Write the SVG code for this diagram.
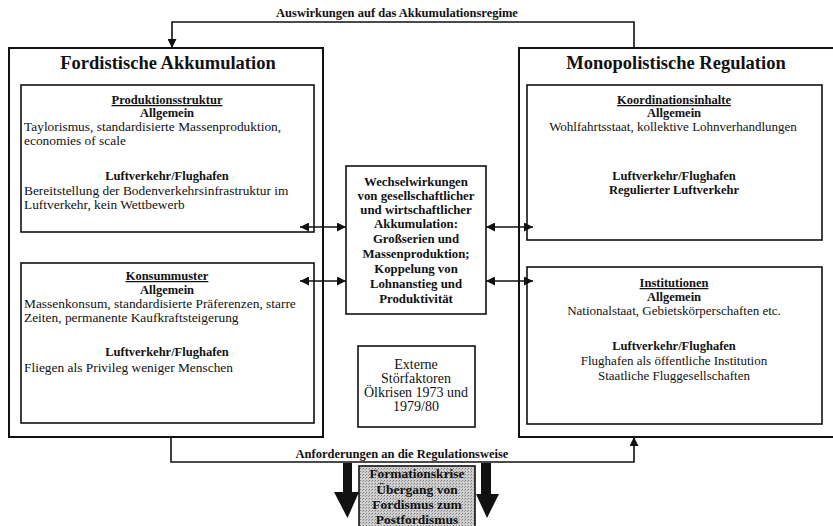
<svg xmlns="http://www.w3.org/2000/svg" width="833" height="526" viewBox="0 0 833 526">
<style>
text{font-family:"Liberation Serif","Times New Roman",serif;fill:#111}
.t{font-size:18.5px;font-weight:bold;text-anchor:middle}
.h{font-size:12.5px;font-weight:bold;text-anchor:middle}
.u{text-decoration:underline}
.b{font-size:13.4px}
.c{font-size:13px;text-anchor:middle}
.m{font-size:12.8px;font-weight:bold;text-anchor:middle}
.e{font-size:14px;text-anchor:middle}
.f{font-size:13.5px;font-weight:bold;text-anchor:middle}
.l{font-size:12.5px;font-weight:bold;text-anchor:middle}
.outer{fill:#fff;stroke:#111;stroke-width:2}
.inner{fill:#fff;stroke:#111;stroke-width:1.6}
.ln{fill:none;stroke:#111;stroke-width:1.6}
</style>
<defs>
<marker id="ah" viewBox="0 0 10 10" refX="10" refY="5" markerWidth="9" markerHeight="9" markerUnits="userSpaceOnUse" orient="auto-start-reverse">
<path d="M0,0 L10,5 L0,10 z" fill="#111"/>
</marker>
<pattern id="dots" width="3" height="3" patternUnits="userSpaceOnUse">
<rect width="3" height="3" fill="#d0d0d0"/>
<rect x="0" y="0" width="1" height="1" fill="#777"/>
<rect x="2" y="1" width="1" height="1" fill="#999"/>
</pattern>
</defs>
<rect width="833" height="526" fill="#fff"/>

<g id="fordistische-akkumulation">
<rect class="outer" x="9" y="48" width="314" height="389"/>
<text class="t" x="168" y="69">Fordistische Akkumulation</text>
</g>
<g id="produktionsstruktur">
<rect class="inner" x="21" y="85" width="293" height="147"/>
<text class="h u" x="167" y="104">Produktionsstruktur</text>
<text class="h" x="167" y="117">Allgemein</text>
<text class="b" x="24" y="131">Taylorismus, standardisierte Massenproduktion,</text>
<text class="b" x="24" y="145">economies of scale</text>
<text class="h" x="167" y="180">Luftverkehr/Flughafen</text>
<text class="b" x="24" y="195">Bereitstellung der Bodenverkehrsinfrastruktur im</text>
<text class="b" x="24" y="209">Luftverkehr, kein Wettbewerb</text>
</g>
<g id="konsummuster">
<rect class="inner" x="21" y="263" width="293" height="160"/>
<text class="h u" x="167" y="280">Konsummuster</text>
<text class="h" x="167" y="294">Allgemein</text>
<text class="b" x="24" y="308">Massenkonsum, standardisierte Präferenzen, starre</text>
<text class="b" x="24" y="322">Zeiten, permanente Kaufkraftsteigerung</text>
<text class="h" x="167" y="356">Luftverkehr/Flughafen</text>
<text class="b" x="24" y="372">Fliegen als Privileg weniger Menschen</text>
</g>

<g id="monopolistische-regulation">
<rect class="outer" x="519" y="48" width="320" height="389"/>
<text class="t" x="676" y="69">Monopolistische Regulation</text>
</g>
<g id="koordinationsinhalte">
<rect class="inner" x="527" y="85" width="295" height="155"/>
<text class="h u" x="674" y="104">Koordinationsinhalte</text>
<text class="h" x="674" y="117">Allgemein</text>
<text class="c" x="673" y="131">Wohlfahrtsstaat, kollektive Lohnverhandlungen</text>
<text class="h" x="674" y="180">Luftverkehr/Flughafen</text>
<text class="h" x="674" y="194">Regulierter Luftverkehr</text>
</g>
<g id="institutionen">
<rect class="inner" x="527" y="267" width="295" height="157"/>
<text class="h u" x="674" y="287">Institutionen</text>
<text class="h" x="674" y="301">Allgemein</text>
<text class="c" x="674" y="315">Nationalstaat, Gebietskörperschaften etc.</text>
<text class="h" x="674" y="350">Luftverkehr/Flughafen</text>
<text class="c" x="674" y="365">Flughafen als öffentliche Institution</text>
<text class="c" x="674" y="380">Staatliche Fluggesellschaften</text>
</g>

<g id="wechselwirkungen">
<rect class="inner" x="346" y="166" width="140" height="148"/>
<text class="m" x="416" y="186">Wechselwirkungen</text>
<text class="m" x="416" y="200">von gesellschaftlicher</text>
<text class="m" x="416" y="214">und wirtschaftlicher</text>
<text class="m" x="416" y="228">Akkumulation:</text>
<text class="m" x="416" y="243">Großserien und</text>
<text class="m" x="416" y="258">Massenproduktion;</text>
<text class="m" x="416" y="273">Koppelung von</text>
<text class="m" x="416" y="288">Lohnanstieg und</text>
<text class="m" x="416" y="303">Produktivität</text>
</g>

<g id="externe-stoerfaktoren">
<rect class="inner" x="358" y="346" width="117" height="81"/>
<text class="e" x="416" y="369">Externe</text>
<text class="e" x="416" y="383">Störfaktoren</text>
<text class="e" x="416" y="397">Ölkrisen 1973 und</text>
<text class="e" x="416" y="411">1979/80</text>
</g>

<g id="formationskrise">
<rect x="359" y="466" width="116" height="70" fill="url(#dots)" stroke="#111" stroke-width="1.6"/>
<text class="f" x="417" y="478">Formationskrise</text>
<text class="f" x="417" y="494">Übergang von</text>
<text class="f" x="417" y="509">Fordismus zum</text>
<text class="f" x="417" y="524">Postfordismus</text>
</g>

<g id="connectors">
<polyline class="ln" points="634,48 634,22 172,22 172,48" marker-end="url(#ah)"/>
<text class="l" x="397" y="17">Auswirkungen auf das Akkumulationsregime</text>
<polyline class="ln" points="171,437 171,462 634,462 634,437" marker-end="url(#ah)"/>
<text class="l" x="402" y="458">Anforderungen an die Regulationsweise</text>
<line class="ln" x1="300" y1="227" x2="346" y2="227" marker-start="url(#ah)" marker-end="url(#ah)"/>
<line class="ln" x1="300" y1="281" x2="346" y2="281" marker-start="url(#ah)" marker-end="url(#ah)"/>
<line class="ln" x1="486" y1="227" x2="533" y2="227" marker-start="url(#ah)" marker-end="url(#ah)"/>
<line class="ln" x1="486" y1="281" x2="533" y2="281" marker-start="url(#ah)" marker-end="url(#ah)"/>
<polygon points="343,463 352,463 352,492 359,492 347.5,518 334,492 343,492" fill="#111"/>
<polygon points="481,463 491,463 491,494 499,494 487,518 476,494 481,494" fill="#111"/>
</g>
</svg>
